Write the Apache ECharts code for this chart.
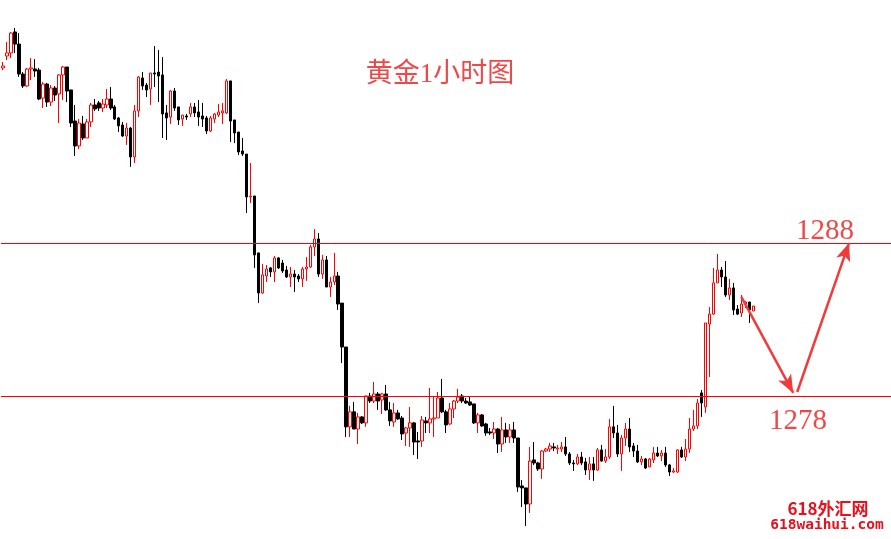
<!DOCTYPE html>
<html><head><meta charset="utf-8">
<script src="https://cdn.jsdelivr.net/npm/echarts@6/dist/echarts.min.js"></script>
<style>html,body{margin:0;padding:0;background:#fff}#c{width:891px;height:539px}</style>
</head><body><div id="c"></div>
<script>
const opens=[1299.44,1300.22,1300.42,1301.79,1301.00,1299.04,1298.26,1299.37,1299.37,1299.30,
1297.47,1298.39,1297.21,1298.13,1297.74,1298.98,1299.50,1298.00,1295.97,1294.34,
1295.78,1294.86,1295.91,1297.02,1297.15,1296.82,1297.02,1297.41,1296.89,1296.17,
1295.71,1294.99,1295.51,1293.62,1296.63,1298.78,1298.32,1298.06,1299.11,1299.17,
1298.98,1296.50,1296.23,1297.93,1296.89,1296.10,1296.30,1296.43,1296.89,1296.56,
1296.30,1296.17,1295.32,1296.10,1296.36,1296.50,1296.50,1298.59,1296.04,1295.25,
1294.01,1293.81,1291.01,1291.07,1287.35,1284.73,1285.84,1286.37,1286.11,1287.02,
1286.69,1286.23,1285.78,1285.97,1285.84,1285.65,1286.30,1286.43,1287.74,1288.26,
1285.97,1286.89,1285.12,1285.45,1285.84,1284.07,1281.20,1275.98,1276.96,1275.84,
1276.63,1276.24,1278.00,1277.67,1278.13,1277.74,1278.13,1277.09,1276.30,1276.89,
1276.56,1275.58,1275.91,1276.24,1275.06,1275.06,1276.37,1276.24,1276.50,1276.56,
1277.87,1276.96,1276.17,1277.15,1277.67,1278.00,1277.67,1277.61,1277.48,1276.24,
1276.76,1276.17,1275.65,1275.58,1275.84,1274.86,1275.78,1275.32,1275.78,1275.25,
1272.12,1271.99,1270.94,1273.82,1273.62,1273.23,1274.40,1274.53,1274.67,1274.53,
1274.53,1274.67,1274.21,1273.62,1273.56,1274.01,1273.69,1273.16,1273.56,1273.16,
1274.47,1273.75,1274.01,1275.98,1275.58,1274.21,1275.25,1275.84,1274.73,1274.40,
1273.69,1273.88,1273.36,1273.82,1274.27,1274.08,1274.27,1273.49,1273.03,1273.03,
1274.47,1274.01,1274.53,1275.84,1276.04,1278.20,1277.28,1282.70,1283.35,1285.39,
1286.23,1285.78,1284.60,1285.06,1283.68,1283.42,1284.01,1284.14,1283.55];
const closes=[1299.57,1300.42,1301.72,1301.00,1299.04,1298.26,1299.37,1299.44,1299.24,1297.41,
1298.39,1297.21,1298.13,1297.67,1298.98,1299.50,1297.93,1295.84,1294.34,1295.84,
1294.86,1295.91,1297.02,1296.76,1296.82,1297.08,1297.41,1296.82,1296.10,1295.65,
1294.99,1295.51,1293.62,1296.63,1298.85,1298.26,1298.00,1299.11,1299.04,1298.91,
1296.43,1296.17,1297.93,1296.82,1296.04,1296.36,1296.23,1296.89,1296.50,1296.23,
1296.10,1295.32,1296.17,1296.43,1296.56,1296.63,1298.59,1295.97,1295.19,1293.95,
1293.81,1291.01,1291.07,1287.22,1284.73,1285.91,1286.30,1286.11,1287.02,1286.37,
1286.17,1285.78,1285.97,1285.78,1285.65,1286.30,1286.43,1287.74,1288.26,1285.97,
1286.89,1285.12,1285.45,1285.84,1284.01,1281.20,1275.98,1276.96,1275.84,1276.63,
1276.24,1278.00,1277.67,1278.13,1277.67,1278.13,1277.09,1276.37,1276.89,1276.50,
1275.52,1275.91,1276.24,1274.99,1274.99,1276.43,1276.24,1276.50,1276.56,1277.87,
1276.96,1276.11,1277.15,1277.67,1277.93,1277.67,1277.54,1277.41,1276.24,1276.76,
1276.04,1275.58,1275.58,1275.84,1274.86,1275.78,1275.32,1275.78,1275.25,1272.05,
1271.99,1270.94,1273.75,1273.62,1273.23,1274.40,1274.53,1274.73,1274.60,1274.60,
1274.67,1274.21,1273.62,1273.56,1274.01,1273.62,1273.16,1273.56,1273.16,1274.47,
1273.75,1274.01,1275.98,1275.58,1274.21,1275.25,1275.84,1274.67,1274.40,1273.69,
1273.88,1273.29,1273.88,1274.27,1274.08,1274.27,1273.49,1273.03,1273.10,1274.47,
1274.01,1274.53,1275.84,1276.04,1277.54,1277.54,1282.77,1283.35,1285.39,1286.23,
1285.78,1284.60,1285.06,1283.62,1283.35,1284.01,1284.14,1283.62,1283.88];
const lows=[1299.30,1299.96,1300.09,1300.42,1298.85,1298.13,1298.19,1298.65,1298.85,1297.34,
1296.82,1296.89,1296.95,1297.28,1295.84,1297.34,1297.21,1295.58,1293.68,1294.14,
1294.73,1294.86,1295.58,1296.63,1296.63,1296.56,1296.82,1296.69,1296.04,1295.25,
1294.93,1294.40,1292.97,1293.23,1296.23,1298.00,1297.54,1297.02,1298.19,1297.21,
1294.86,1294.73,1295.78,1296.63,1295.71,1295.65,1296.04,1296.23,1296.23,1295.65,
1295.58,1295.12,1295.25,1295.84,1296.23,1295.78,1296.43,1294.60,1294.53,1293.75,
1293.68,1289.96,1290.61,1286.37,1284.07,1284.67,1285.45,1285.78,1285.45,1286.30,
1286.04,1285.71,1285.12,1284.80,1285.45,1285.12,1285.52,1286.37,1287.15,1285.78,
1285.65,1285.12,1284.47,1285.25,1283.62,1280.15,1275.32,1275.32,1275.84,1274.86,
1276.17,1275.98,1277.54,1277.54,1277.09,1276.82,1277.02,1276.04,1275.98,1276.43,
1275.12,1274.73,1274.67,1274.14,1273.88,1274.67,1275.58,1275.58,1275.32,1276.56,
1276.89,1275.58,1276.11,1276.56,1277.54,1277.54,1277.48,1277.35,1276.17,1275.58,
1275.98,1275.39,1275.45,1275.19,1274.27,1274.34,1274.93,1274.93,1274.93,1271.73,
1270.74,1269.50,1270.35,1273.49,1273.10,1272.58,1274.34,1274.34,1274.40,1274.21,
1274.34,1274.08,1273.49,1273.10,1273.49,1273.49,1272.84,1272.51,1272.45,1273.10,
1273.69,1273.62,1273.88,1275.25,1274.01,1273.10,1274.73,1274.34,1274.01,1273.62,
1273.49,1273.23,1273.36,1273.62,1274.01,1273.75,1273.36,1272.77,1272.97,1272.97,
1273.95,1273.75,1274.27,1275.71,1275.84,1276.63,1276.89,1279.24,1283.29,1285.39,
1285.12,1284.47,1284.27,1283.29,1283.29,1283.16,1283.75,1282.77,1283.55];
const highs=[1299.83,1301.13,1301.79,1302.05,1301.72,1299.17,1299.44,1300.09,1300.02,1299.44,
1298.52,1298.46,1298.32,1298.26,1299.04,1299.57,1299.50,1298.00,1297.02,1296.10,
1296.30,1296.10,1297.15,1297.41,1297.28,1297.41,1298.06,1298.19,1297.02,1296.23,
1295.91,1295.84,1295.58,1297.02,1298.91,1299.17,1298.46,1299.11,1300.87,1300.61,
1300.15,1297.02,1298.00,1298.13,1296.89,1296.36,1296.43,1297.15,1297.15,1297.34,
1297.15,1296.30,1296.30,1296.50,1297.08,1297.15,1298.72,1298.59,1296.04,1295.25,
1294.86,1293.81,1293.23,1291.07,1287.35,1286.63,1286.56,1286.43,1287.15,1287.08,
1286.89,1286.50,1286.43,1286.23,1285.97,1286.43,1287.08,1287.87,1288.91,1288.65,
1287.22,1287.15,1285.78,1287.35,1286.11,1284.07,1281.20,1277.35,1277.61,1276.89,
1276.69,1278.00,1278.20,1278.91,1278.26,1278.20,1278.72,1277.61,1277.54,1277.09,
1276.69,1275.98,1277.28,1276.30,1275.65,1276.69,1276.63,1278.52,1277.93,1278.26,
1279.11,1277.09,1277.54,1277.74,1278.46,1278.13,1277.87,1277.93,1277.48,1276.89,
1276.82,1276.24,1275.91,1276.30,1275.91,1276.63,1276.24,1276.17,1276.30,1275.25,
1272.51,1271.99,1274.67,1274.99,1273.69,1274.47,1274.60,1274.93,1274.93,1274.80,
1274.99,1275.32,1274.34,1273.82,1274.21,1274.34,1273.95,1274.01,1274.01,1274.60,
1274.80,1274.53,1276.50,1277.35,1276.11,1275.45,1276.24,1276.56,1274.93,1274.80,
1274.08,1273.95,1273.95,1274.67,1274.67,1274.47,1274.67,1273.56,1273.29,1274.53,
1274.67,1275.19,1276.56,1277.09,1277.80,1278.39,1282.77,1283.81,1286.37,1287.28,
1286.43,1286.82,1285.65,1285.39,1283.94,1284.60,1284.20,1284.14,1283.88];
const levels=[1288,1278];
const levelLabels=['1288','1278'];
// forecast arrows: [bar index, price]
const arrowDown=[[185,1284.47],[198,1278.20]];
const arrowUp=[[199,1278.26],[212,1288.0]];
const titleText='黄金1小时图';
const categories=Array.from({length:223},(_,i)=>String(i+1));

const ohlc=opens.map((o,i)=>[o,closes[i],lows[i],highs[i]]);
const chart=echarts.init(document.getElementById('c'),null,{renderer:'canvas'});
const toCoord=p=>({coord:[categories[p[0]],p[1]]});
const arrowLine={color:'#f23a3a',width:2.5,type:'solid'};
chart.setOption({
  animation:false,
  backgroundColor:'#ffffff',
  grid:{left:1,top:13.46,width:892,height:520.2,containLabel:false},
  xAxis:{type:'category',data:categories,boundaryGap:true,show:false},
  yAxis:{type:'value',min:1269,max:1303,show:false,splitLine:{show:false}},
  series:[{
    type:'candlestick',
    data:ohlc,
    barWidth:3,
    itemStyle:{color:'#ffffff',color0:'#000000',borderColor:'#ff0000',borderColor0:'#000000',borderWidth:1},
    markLine:{
      silent:true,
      symbol:['none','none'],
      label:{show:false},
      data:[
        {yAxis:levels[0],lineStyle:{color:'#ff0000',width:1,type:'solid'}},
        {yAxis:levels[1],lineStyle:{color:'#ff0000',width:1,type:'solid'}},
        [Object.assign(toCoord(arrowDown[0]),{symbol:'none',lineStyle:arrowLine}),Object.assign(toCoord(arrowDown[1]),{symbol:'arrow',symbolSize:[11,18]})],
        [Object.assign(toCoord(arrowUp[0]),{symbol:'none',lineStyle:arrowLine}),Object.assign(toCoord(arrowUp[1]),{symbol:'arrow',symbolSize:[11,18]})]
      ]
    }
  }],
  graphic:[
    {type:'text',x:440,y:75,style:{text:titleText,font:'27px "Liberation Serif","Noto Sans CJK SC"',fill:'#f04848',textAlign:'center',textVerticalAlign:'middle'}},
    {type:'text',x:825,y:231,style:{text:levelLabels[0],font:'29px "Liberation Serif"',fill:'#f04848',textAlign:'center',textVerticalAlign:'middle'}},
    {type:'text',x:798,y:421,style:{text:levelLabels[1],font:'29px "Liberation Serif"',fill:'#f04848',textAlign:'center',textVerticalAlign:'middle'}},
    {type:'text',x:828,y:509,style:{text:'618外汇网',font:'bold 17px "Noto Sans CJK SC"',fill:'#e8101c',textAlign:'center',textVerticalAlign:'middle'}},
    {type:'text',x:827,y:525,style:{text:'618waihui.com',font:'bold 14.5px "DejaVu Sans Mono"',fill:'#e8101c',textAlign:'center',textVerticalAlign:'middle'}}
  ]
});
</script></body></html>
